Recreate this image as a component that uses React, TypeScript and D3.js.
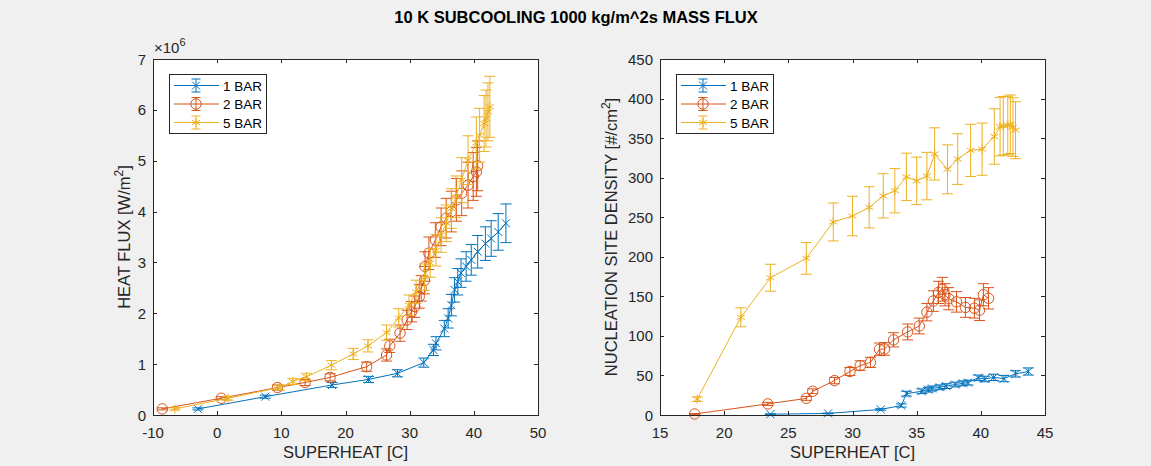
import React from "react";
import * as d3 from "d3";

// ---------- DATA ----------
const TITLE = "10 K SUBCOOLING 1000 kg/m^2s MASS FLUX";
const SERIES_NAMES = ["1 BAR", "2 BAR", "5 BAR"];
const COLORS = ["#0072BD", "#D95319", "#EDB120"];
const MARKERS = ["x", "o", "*"];

// Left: heat flux (x1e6 W/m^2) vs superheat
const hf1x = [-3.0, 7.5, 17.9, 23.6, 28.1, 32.2, 33.7, 34.1, 35.4, 36.0, 36.5, 37.0, 37.5, 38.0, 38.8, 39.6, 40.6, 41.8, 42.7, 43.8, 45.0];
const hf1y = [0.12, 0.36, 0.59, 0.70, 0.82, 1.03, 1.28, 1.41, 1.70, 1.90, 2.16, 2.46, 2.62, 2.79, 2.92, 3.05, 3.21, 3.37, 3.47, 3.60, 3.77];
const hf1e = [0.02, 0.03, 0.05, 0.06, 0.07, 0.09, 0.11, 0.13, 0.16, 0.19, 0.21, 0.24, 0.26, 0.28, 0.29, 0.30, 0.32, 0.33, 0.35, 0.36, 0.38];

const hf2x = [-8.55, 0.65, 9.4, 13.7, 17.6, 23.3, 26.4, 26.9, 28.5, 29.6, 30.3, 30.8, 31.5, 31.8, 32.3, 32.4, 33.0, 34.0, 34.9, 35.7, 36.5, 37.3, 38.1, 39.1, 39.9, 40.4, 40.6];
const hf2y = [0.12, 0.33, 0.54, 0.64, 0.74, 0.95, 1.18, 1.36, 1.61, 1.87, 2.03, 2.13, 2.33, 2.49, 2.65, 2.92, 3.18, 3.44, 3.70, 3.87, 4.00, 4.23, 4.36, 4.52, 4.69, 4.78, 4.90];
const hf2e = [0.02, 0.03, 0.05, 0.06, 0.07, 0.09, 0.12, 0.13, 0.16, 0.19, 0.20, 0.21, 0.23, 0.25, 0.27, 0.29, 0.32, 0.34, 0.37, 0.39, 0.40, 0.42, 0.44, 0.45, 0.47, 0.48, 0.49];

const hf5x = [-6.6, 1.7, 9.7, 11.8, 13.9, 17.8, 21.2, 23.5, 26.4, 28.3, 29.9, 31.0, 32.3, 33.2, 34.1, 34.9, 35.7, 36.5, 37.2, 38.1, 39.1, 40.4, 40.9, 41.6, 41.9, 42.2, 42.5];
const hf5y = [0.12, 0.33, 0.54, 0.66, 0.75, 0.98, 1.20, 1.36, 1.62, 1.91, 2.16, 2.42, 2.71, 2.99, 3.24, 3.54, 3.77, 4.06, 4.29, 4.62, 5.01, 5.35, 5.50, 5.73, 5.83, 5.96, 6.06];
const hf5e = [0.02, 0.04, 0.05, 0.06, 0.07, 0.09, 0.11, 0.12, 0.15, 0.18, 0.20, 0.23, 0.26, 0.28, 0.31, 0.34, 0.36, 0.39, 0.41, 0.44, 0.48, 0.51, 0.53, 0.55, 0.56, 0.57, 0.60];

// Right: nucleation site density (#/cm^2) vs superheat
const ns1x = [23.6, 28.1, 32.2, 33.8, 34.2, 35.4, 35.9, 36.2, 36.8, 37.3, 38.0, 38.6, 39.0, 39.8, 40.3, 41.0, 41.8, 42.7, 43.7];
const ns1y = [1, 2, 7, 12, 27, 30, 32, 33.5, 35, 36.5, 38.5, 40, 41, 47, 45.5, 47.5, 46, 52, 55];
const ns1e = [0.5, 0.5, 1, 2, 3, 3, 3, 3, 3, 3, 3, 3, 3, 3.5, 3.5, 4, 4, 4, 4.5];

const ns2x = [17.7, 23.4, 26.4, 26.9, 28.6, 29.8, 30.6, 31.4, 32.1, 32.5, 33.2, 34.3, 35.2, 35.8, 36.3, 36.7, 37.0, 37.2, 37.5, 38.1, 38.8, 39.5, 39.9, 40.2, 40.6];
const ns2y = [1.3, 14, 21, 30, 43.5, 55, 62.5, 66.5, 83, 83.5, 95, 105, 112.5, 130, 144, 155, 159, 152, 147, 143, 136, 135, 132.5, 152, 147.5];
const ns2e = [0.5, 2, 2.5, 3, 4, 5, 6, 6.5, 8, 8, 9, 10, 10, 11, 13, 14, 15, 14, 14, 13, 12.5, 12.5, 13, 14, 13.5];

const ns5x = [17.9, 21.3, 23.6, 26.4, 28.5, 30.0, 31.3, 32.4, 33.3, 34.2, 35.0, 35.8, 36.4, 37.4, 38.2, 39.2, 40.1, 41.05, 41.5, 41.75, 42.1, 42.3, 42.5, 42.7];
const ns5y = [20, 123.5, 173.5, 198, 244, 251.5, 262.5, 277, 283.5, 301, 296, 302, 330, 310.5, 323.5, 334.5, 336, 352, 364.5, 365.5, 366, 367.5, 364, 360];
const ns5e = [3, 12, 17, 20, 24, 25, 26, 28, 28, 30, 30, 30, 33, 31, 32, 33, 33, 35, 37, 37, 37, 37, 37, 36];

const leftXTicks = [-10, 0, 10, 20, 30, 40, 50];
const leftYTicks = [0, 1, 2, 3, 4, 5, 6, 7];
const rightXTicks = [15, 20, 25, 30, 35, 40, 45];
const rightYTicks = [0, 50, 100, 150, 200, 250, 300, 350, 400, 450];

const X_LABEL = "SUPERHEAT [C]";

// ---------- DRAWING ----------
const FONT = "'Liberation Sans', Arial, Helvetica, sans-serif";
const AX = "#262626";

type Series = { x: number[]; y: number[]; e: number[] };

function Marker({ kind, cx, cy, color }: { kind: string; cx: number; cy: number; color: string }) {
  if (kind === "o") return <circle cx={cx} cy={cy} r={5.2} fill="none" stroke={color} strokeWidth={1} />;
  if (kind === "x") {
    const s = 4;
    return (
      <path d={`M${cx - s},${cy - s}L${cx + s},${cy + s}M${cx - s},${cy + s}L${cx + s},${cy - s}`} stroke={color} strokeWidth={1} />
    );
  }
  const s = 4.6;
  const a = s * Math.cos(Math.PI / 6);
  const b = s * Math.sin(Math.PI / 6);
  return (
    <path
      d={`M${cx},${cy - s}L${cx},${cy + s}M${cx - a},${cy - b}L${cx + a},${cy + b}M${cx - a},${cy + b}L${cx + a},${cy - b}`}
      stroke={color}
      strokeWidth={1}
    />
  );
}

function Panel(props: {
  left: number;
  right: number;
  top: number;
  bottom: number;
  xDomain: [number, number];
  yDomain: [number, number];
  xTicks: number[];
  yTicks: number[];
  series: Series[];
  yLabelMain: string;
  yLabelSup: string;
  yLabelEnd: string;
  yLabelX: number;
  exponent?: boolean;
}) {
  const { left, right, top, bottom, xDomain, yDomain, xTicks, yTicks, series } = props;
  const xs = d3.scaleLinear().domain(xDomain).range([left, right]);
  const ys = d3.scaleLinear().domain(yDomain).range([bottom, top]);
  const line = d3
    .line<[number, number]>()
    .x((d) => xs(d[0]))
    .y((d) => ys(d[1]));
  const cap = 5.5;
  const tl = 4;
  const midY = (top + bottom) / 2;
  const legX = left + 16;
  return (
    <g>
      <rect x={left} y={top} width={right - left} height={bottom - top} fill="#ffffff" />
      {series.map((s, si) => {
        const pts = s.x.map((xv, i) => [xv, s.y[i]] as [number, number]);
        const color = COLORS[si];
        return (
          <g key={si}>
            {s.x.map((xv, i) => {
              const px = xs(xv);
              const y1 = ys(s.y[i] - s.e[i]);
              const y2 = ys(s.y[i] + s.e[i]);
              return (
                <path
                  key={i}
                  d={`M${px},${y1}L${px},${y2}M${px - cap},${y1}L${px + cap},${y1}M${px - cap},${y2}L${px + cap},${y2}`}
                  stroke={color}
                  strokeWidth={1}
                  fill="none"
                />
              );
            })}
            <path d={line(pts) || ""} fill="none" stroke={color} strokeWidth={1} />
            {pts.map((p, i) => (
              <Marker key={i} kind={MARKERS[si]} cx={xs(p[0])} cy={ys(p[1])} color={color} />
            ))}
          </g>
        );
      })}
      {/* box */}
      <rect x={left + 0.5} y={top + 0.5} width={right - left} height={bottom - top} fill="none" stroke={AX} strokeWidth={1} />
      {xTicks.map((t) => {
        const px = Math.round(xs(t)) + 0.5;
        return (
          <g key={"xt" + t}>
            <line x1={px} x2={px} y1={bottom} y2={bottom - tl} stroke={AX} />
            <line x1={px} x2={px} y1={top} y2={top + tl} stroke={AX} />
            <text x={xs(t)} y={bottom + 23} textAnchor="middle" fontSize={15} fill={AX} fontFamily={FONT}>
              {t}
            </text>
          </g>
        );
      })}
      {yTicks.map((t) => {
        const py = Math.round(ys(t)) + 0.5;
        return (
          <g key={"yt" + t}>
            <line x1={left} x2={left + tl} y1={py} y2={py} stroke={AX} />
            <line x1={right} x2={right - tl} y1={py} y2={py} stroke={AX} />
            <text x={left - 7} y={ys(t) + 5.5} textAnchor="end" fontSize={15} fill={AX} fontFamily={FONT}>
              {t}
            </text>
          </g>
        );
      })}
      {props.exponent && (
        <text x={left + 1} y={top - 6} fontSize={15} fill={AX} fontFamily={FONT}>
          ×10
          <tspan dy={-7} fontSize={11}>
            6
          </tspan>
        </text>
      )}
      <text
        x={(left + right) / 2}
        y={bottom + 43}
        textAnchor="middle"
        fontSize={16.5}
        fill={AX}
        fontFamily={FONT}
      >
        {X_LABEL}
      </text>
      <text
        transform={`translate(${props.yLabelX},${midY}) rotate(-90)`}
        textAnchor="middle"
        fontSize={16.5}
        fill={AX}
        fontFamily={FONT}
      >
        {props.yLabelMain}
        <tspan dy={-7} fontSize={12}>
          {props.yLabelSup}
        </tspan>
        <tspan dy={7}>{props.yLabelEnd}</tspan>
      </text>
      {/* legend */}
      <g>
        <rect x={legX + 0.5} y={74.5} width={97} height={59} fill="#ffffff" stroke={AX} strokeWidth={1} />
        {SERIES_NAMES.map((name, i) => {
          const ry = 85.5 + i * 18.5;
          const mx = legX + 27;
          const color = COLORS[i];
          return (
            <g key={name}>
              <line x1={legX + 5} x2={legX + 50} y1={ry} y2={ry} stroke={color} strokeWidth={1} />
              <path
                d={`M${mx},${ry - 6.5}L${mx},${ry + 6.5}M${mx - 4.5},${ry - 6.5}L${mx + 4.5},${ry - 6.5}M${mx - 4.5},${ry + 6.5}L${mx + 4.5},${ry + 6.5}`}
                stroke={color}
                strokeWidth={1}
              />
              <Marker kind={MARKERS[i]} cx={mx} cy={ry} color={color} />
              <text x={legX + 54} y={ry + 5} fontSize={13.5} fill="#000" fontFamily={FONT}>
                {name}
              </text>
            </g>
          );
        })}
      </g>
    </g>
  );
}

export default function App() {
  const leftSeries: Series[] = [
    { x: hf1x, y: hf1y, e: hf1e },
    { x: hf2x, y: hf2y, e: hf2e },
    { x: hf5x, y: hf5y, e: hf5e },
  ];
  const rightSeries: Series[] = [
    { x: ns1x, y: ns1y, e: ns1e },
    { x: ns2x, y: ns2y, e: ns2e },
    { x: ns5x, y: ns5y, e: ns5e },
  ];
  return (
    <svg
      width={1151}
      height={466}
      style={{ position: "fixed", left: 0, top: 0, background: "#f0f0f0" }}
      fontFamily={FONT}
    >
      <rect x={0} y={0} width={1151} height={466} fill="#f0f0f0" />
      <text x={576} y={23} textAnchor="middle" fontSize={16.5} fontWeight="bold" fill="#000" fontFamily={FONT}>
        {TITLE}
      </text>
      <Panel
        left={153}
        right={538}
        top={59}
        bottom={415}
        xDomain={[-10, 50]}
        yDomain={[0, 7]}
        xTicks={leftXTicks}
        yTicks={leftYTicks}
        series={leftSeries}
        yLabelMain="HEAT FLUX [W/m"
        yLabelSup="2"
        yLabelEnd="]"
        yLabelX={130}
        exponent
      />
      <Panel
        left={660}
        right={1045}
        top={59}
        bottom={415}
        xDomain={[15, 45]}
        yDomain={[0, 450]}
        xTicks={rightXTicks}
        yTicks={rightYTicks}
        series={rightSeries}
        yLabelMain="NUCLEATION SITE DENSITY [#/cm"
        yLabelSup="2"
        yLabelEnd="]"
        yLabelX={617}
      />
    </svg>
  );
}
